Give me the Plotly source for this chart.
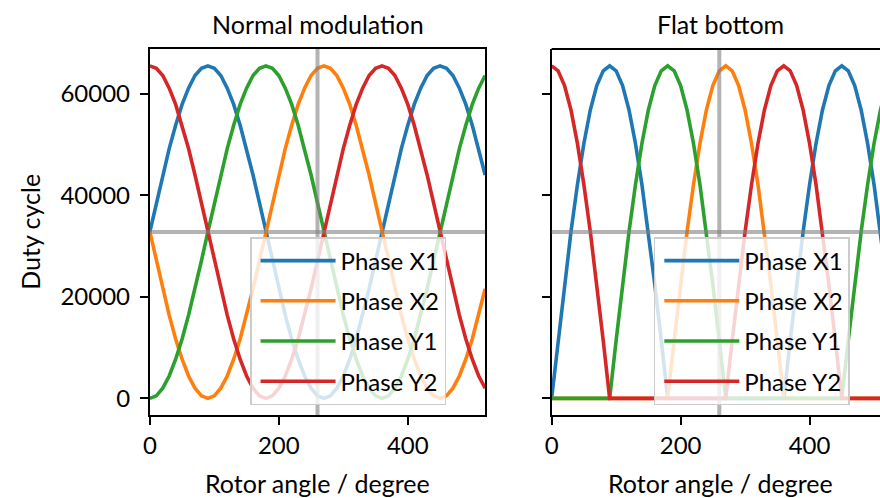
import plotly.graph_objects as go

# ---------------- data ----------------
angles = list(range(0, 521, 10))

normal_x1 = [32800, 38500, 44000, 49200, 53800, 57900, 61100, 63600, 65000, 65500,
             65000, 63600, 61100, 57900, 53800, 49200, 44000, 38500, 32800, 27100,
             21600, 16400, 11700, 7700, 4400, 2000, 500, 0, 500, 2000,
             4400, 7700, 11700, 16400, 21600, 27100, 32800, 38500, 44000, 49200,
             53800, 57900, 61100, 63600, 65000, 65500, 65000, 63600, 61100, 57900,
             53800, 49200, 44000]
normal_x2 = [32800, 27100, 21600, 16400, 11700, 7700, 4400, 2000, 500, 0,
             500, 2000, 4400, 7700, 11700, 16400, 21600, 27100, 32800, 38500,
             44000, 49200, 53800, 57900, 61100, 63600, 65000, 65500, 65000, 63600,
             61100, 57900, 53800, 49200, 44000, 38500, 32800, 27100, 21600, 16400,
             11700, 7700, 4400, 2000, 500, 0, 500, 2000, 4400, 7700,
             11700, 16400, 21600]
normal_y1 = [0, 500, 2000, 4400, 7700, 11700, 16400, 21600, 27100, 32800,
             38500, 44000, 49200, 53800, 57900, 61100, 63600, 65000, 65500, 65000,
             63600, 61100, 57900, 53800, 49200, 44000, 38500, 32800, 27100, 21600,
             16400, 11700, 7700, 4400, 2000, 500, 0, 500, 2000, 4400,
             7700, 11700, 16400, 21600, 27100, 32800, 38500, 44000, 49200, 53800,
             57900, 61100, 63600]
normal_y2 = [65500, 65000, 63600, 61100, 57900, 53800, 49200, 44000, 38500, 32800,
             27100, 21600, 16400, 11700, 7700, 4400, 2000, 500, 0, 500,
             2000, 4400, 7700, 11700, 16400, 21600, 27100, 32800, 38500, 44000,
             49200, 53800, 57900, 61100, 63600, 65000, 65500, 65000, 63600, 61100,
             57900, 53800, 49200, 44000, 38500, 32800, 27100, 21600, 16400, 11700,
             7700, 4400, 2000]

flat_x1 = [0, 11400, 22400, 32800, 42100, 50200, 56800, 61600, 64500, 65500,
           64500, 61600, 56800, 50200, 42100, 32800, 22400, 11400, 0, 0,
           0, 0, 0, 0, 0, 0, 0, 0, 0, 0,
           0, 0, 0, 0, 0, 0, 0, 11400, 22400, 32800,
           42100, 50200, 56800, 61600, 64500, 65500, 64500, 61600, 56800, 50200,
           42100, 32800, 22400]
flat_x2 = [0, 0, 0, 0, 0, 0, 0, 0, 0, 0,
           0, 0, 0, 0, 0, 0, 0, 0, 0, 11400,
           22400, 32800, 42100, 50200, 56800, 61600, 64500, 65500, 64500, 61600,
           56800, 50200, 42100, 32800, 22400, 11400, 0, 0, 0, 0,
           0, 0, 0, 0, 0, 0, 0, 0, 0, 0,
           0, 0, 0]
flat_y1 = [0, 0, 0, 0, 0, 0, 0, 0, 0, 0,
           11400, 22400, 32800, 42100, 50200, 56800, 61600, 64500, 65500, 64500,
           61600, 56800, 50200, 42100, 32800, 22400, 11400, 0, 0, 0,
           0, 0, 0, 0, 0, 0, 0, 0, 0, 0,
           0, 0, 0, 0, 0, 0, 11400, 22400, 32800, 42100,
           50200, 56800, 61600]
flat_y2 = [65500, 64500, 61600, 56800, 50200, 42100, 32800, 22400, 11400, 0,
           0, 0, 0, 0, 0, 0, 0, 0, 0, 0,
           0, 0, 0, 0, 0, 0, 0, 0, 11400, 22400,
           32800, 42100, 50200, 56800, 61600, 64500, 65500, 64500, 61600, 56800,
           50200, 42100, 32800, 22400, 11400, 0, 0, 0, 0, 0,
           0, 0, 0]

series_names = ["Phase X1", "Phase X2", "Phase Y1", "Phase Y2"]
panel_titles = ["Normal modulation", "Flat bottom"]
x_title = "Rotor angle / degree"
y_title = "Duty cycle"
x_ticks = [0, 200, 400]
y_ticks = [0, 20000, 40000, 60000]
cursor_angle = 260
mid_duty = 32768
duty_max = 65535

# ---------------- style ----------------
W, H = 880, 498
FONT = "Lato, 'Open Sans', sans-serif"
FS = 24
FS_T = 25
colors = ["#1f77b4", "#ff7f0e", "#2ca02c", "#d62728"]

left_px = (144, 482)
right_px = (549, 889)
top_px, bot_px = 49, 415
px_per_deg = (left_px[1] - left_px[0]) / 520.0
x_max = 520
x2_max = (W - right_px[0]) / px_per_deg
pad = duty_max * 0.05
y_range = [-pad, duty_max + pad]


def fx(p):
    return p / W


def fy(p):
    return 1 - p / H


fig = go.Figure()
normal = [normal_x1, normal_x2, normal_y1, normal_y2]
flat = [flat_x1, flat_x2, flat_y1, flat_y2]
for i, (name, ys) in enumerate(zip(series_names, normal)):
    fig.add_trace(go.Scatter(x=angles, y=ys, mode="lines", name=name,
                             line=dict(color=colors[i], width=3.6),
                             xaxis="x", yaxis="y", legend="legend",
                             legendgroup="n%d" % i))
for i, (name, ys) in enumerate(zip(series_names, flat)):
    fig.add_trace(go.Scatter(x=angles, y=ys, mode="lines", name=name,
                             line=dict(color=colors[i], width=3.6),
                             xaxis="x2", yaxis="y2", legend="legend2",
                             legendgroup="f%d" % i))

axis_common = dict(showline=True, linecolor="black", linewidth=2,
                   ticks="outside", ticklen=8, tickwidth=2, tickcolor="black",
                   showgrid=False, zeroline=False,
                   tickfont=dict(family=FONT, size=FS, color="black"))

gray = "rgba(128,128,128,0.6)"
shapes = []
for xr, yr in (("x", "y"), ("x2", "y2")):
    shapes.append(dict(type="line", xref=xr, yref=yr + " domain", x0=cursor_angle, x1=cursor_angle,
                       y0=0, y1=1, line=dict(color=gray, width=4), layer="above"))
    shapes.append(dict(type="line", xref=xr + " domain", yref=yr, x0=0, x1=1,
                       y0=mid_duty, y1=mid_duty, line=dict(color=gray, width=4), layer="above"))
# top spine of the (clipped) right panel
shapes.append(dict(type="line", xref="paper", yref="paper", x0=fx(right_px[0]), x1=1,
                   y0=fy(top_px), y1=fy(top_px), line=dict(color="black", width=2)))

legend_common = dict(bgcolor="rgba(255,255,255,0.8)", bordercolor="#cccccc", borderwidth=1.5,
                     font=dict(family=FONT, size=FS, color="black"),
                     itemwidth=75, tracegroupgap=6, xanchor="left", yanchor="top",
                     indentation=4)

ann = []
for title, (a, b) in zip(panel_titles, (left_px, right_px)):
    c = fx((a + b) / 2)
    ann.append(dict(text=title, x=c, y=fy(24), xref="paper", yref="paper",
                    showarrow=False, xanchor="center", yanchor="middle",
                    font=dict(family=FONT, size=FS_T, color="black")))
    ann.append(dict(text=x_title, x=c, y=fy(483), xref="paper", yref="paper",
                    showarrow=False, xanchor="center", yanchor="middle",
                    font=dict(family=FONT, size=FS_T, color="black")))
ann.append(dict(text=y_title, x=fx(23), y=fy((top_px + bot_px) / 2), xref="paper", yref="paper",
                showarrow=False, xanchor="center", yanchor="middle", textangle=-90,
                font=dict(family=FONT, size=FS_T, color="black")))

fig.update_layout(
    width=W, height=H, margin=dict(l=0, r=0, t=0, b=0),
    paper_bgcolor="white", plot_bgcolor="white",
    font=dict(family=FONT, size=FS, color="black"),
    xaxis=dict(domain=[fx(left_px[0]), fx(left_px[1])], range=[0, x_max], tickvals=x_ticks,
               anchor="y", mirror=True, **axis_common),
    yaxis=dict(domain=[fy(bot_px), fy(top_px)], range=y_range, tickvals=y_ticks, tickformat="d",
               anchor="x", mirror=True, ticklabelstandoff=5, **axis_common),
    xaxis2=dict(domain=[fx(right_px[0]), 1], range=[0, x2_max], tickvals=x_ticks,
                anchor="y2", mirror=False, **axis_common),
    yaxis2=dict(domain=[fy(bot_px), fy(top_px)], range=y_range, tickvals=y_ticks,
                showticklabels=False, anchor="x2", mirror=False, **axis_common),
    legend=dict(x=fx(245), y=fy(237), **legend_common),
    legend2=dict(x=fx(652), y=fy(237), **legend_common),
    shapes=shapes, annotations=ann, showlegend=True,
)

fig.write_html("out.html", config={"displayModeBar": False},
               post_script="document.body.style.margin='0';document.body.style.overflow='hidden';")
